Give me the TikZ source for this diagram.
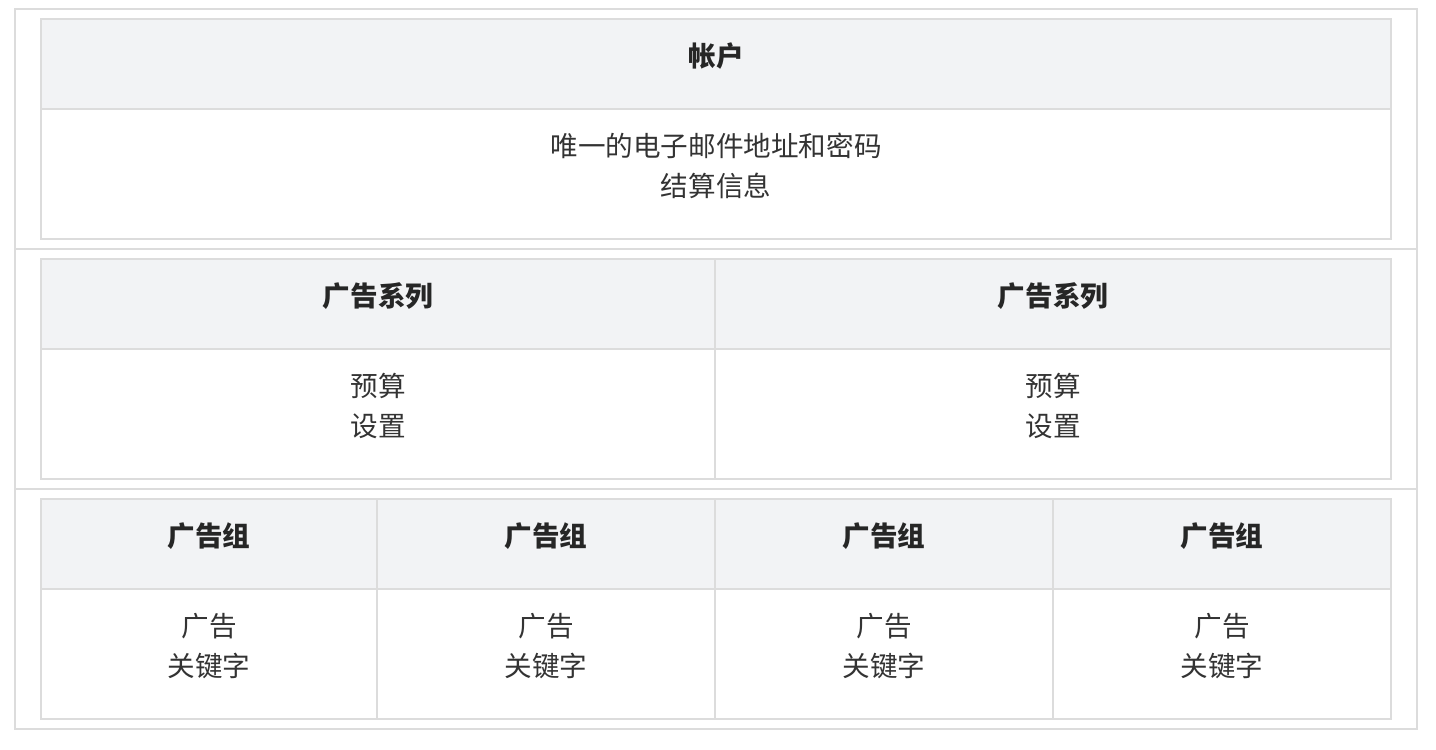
\documentclass[tikz,border=0pt]{standalone}
\usepackage{fontspec}
\setmainfont{Noto Sans CJK SC}
\usepackage{tikz}
\usetikzlibrary{positioning}

\definecolor{rulegray}{HTML}{DCDCDC}
\definecolor{headfill}{HTML}{F2F3F5}
\definecolor{ink}{HTML}{333333}
\tikzset{
  cell/.style={draw=rulegray, line width=1pt},
  headcell/.style={cell, fill=headfill},
  title/.style={inner sep=0pt, font=\fontsize{13.8}{20}\selectfont\bfseries, text=black!85},
  item/.style={inner sep=0pt, align=center, font=\fontsize{13.8}{20}\selectfont, text=ink},
}

\begin{document}
\begin{tikzpicture}[x=0.5pt,y=-0.5pt]
\useasboundingbox (0,0) rectangle (1436,750);
% Outer frame
\draw[cell] (15,9) rectangle (1417,729);
\draw[cell] (15,249) -- (1417,249);
\draw[cell] (15,489) -- (1417,489);

% Account
\draw[headcell] (41,19) rectangle (1391,109);
\draw[cell] (41,109) rectangle (1391,239);
\node[title] (acct) at (716,56) {帐户};
\node[item] (acctinfo) at (716,166) {唯一的电子邮件地址和密码\\结算信息};

% Campaigns
\draw[headcell] (41,259) rectangle (715,349);
\draw[headcell] (715,259) rectangle (1391,349);
\draw[cell] (41,349) rectangle (715,479);
\draw[cell] (715,349) rectangle (1391,479);
\node[title] (campA) at (378,296) {广告系列};
\node[title] (campB) at (1053,296) {广告系列};
\node[item] (campAinfo) at (378,406) {预算\\设置};
\node[item] (campBinfo) at (1053,406) {预算\\设置};

% Ad groups
\draw[headcell] (41,499) rectangle (377,589);
\draw[headcell] (377,499) rectangle (715,589);
\draw[headcell] (715,499) rectangle (1053,589);
\draw[headcell] (1053,499) rectangle (1391,589);
\draw[cell] (41,589) rectangle (377,719);
\draw[cell] (377,589) rectangle (715,719);
\draw[cell] (715,589) rectangle (1053,719);
\draw[cell] (1053,589) rectangle (1391,719);
\node[title] (grpA) at (209,536) {广告组};
\node[title] (grpB) at (546,536) {广告组};
\node[title] (grpC) at (884,536) {广告组};
\node[title] (grpD) at (1222,536) {广告组};
\node[item] (grpAinfo) at (209,646) {广告\\关键字};
\node[item] (grpBinfo) at (546,646) {广告\\关键字};
\node[item] (grpCinfo) at (884,646) {广告\\关键字};
\node[item] (grpDinfo) at (1222,646) {广告\\关键字};
\end{tikzpicture}
\end{document}
